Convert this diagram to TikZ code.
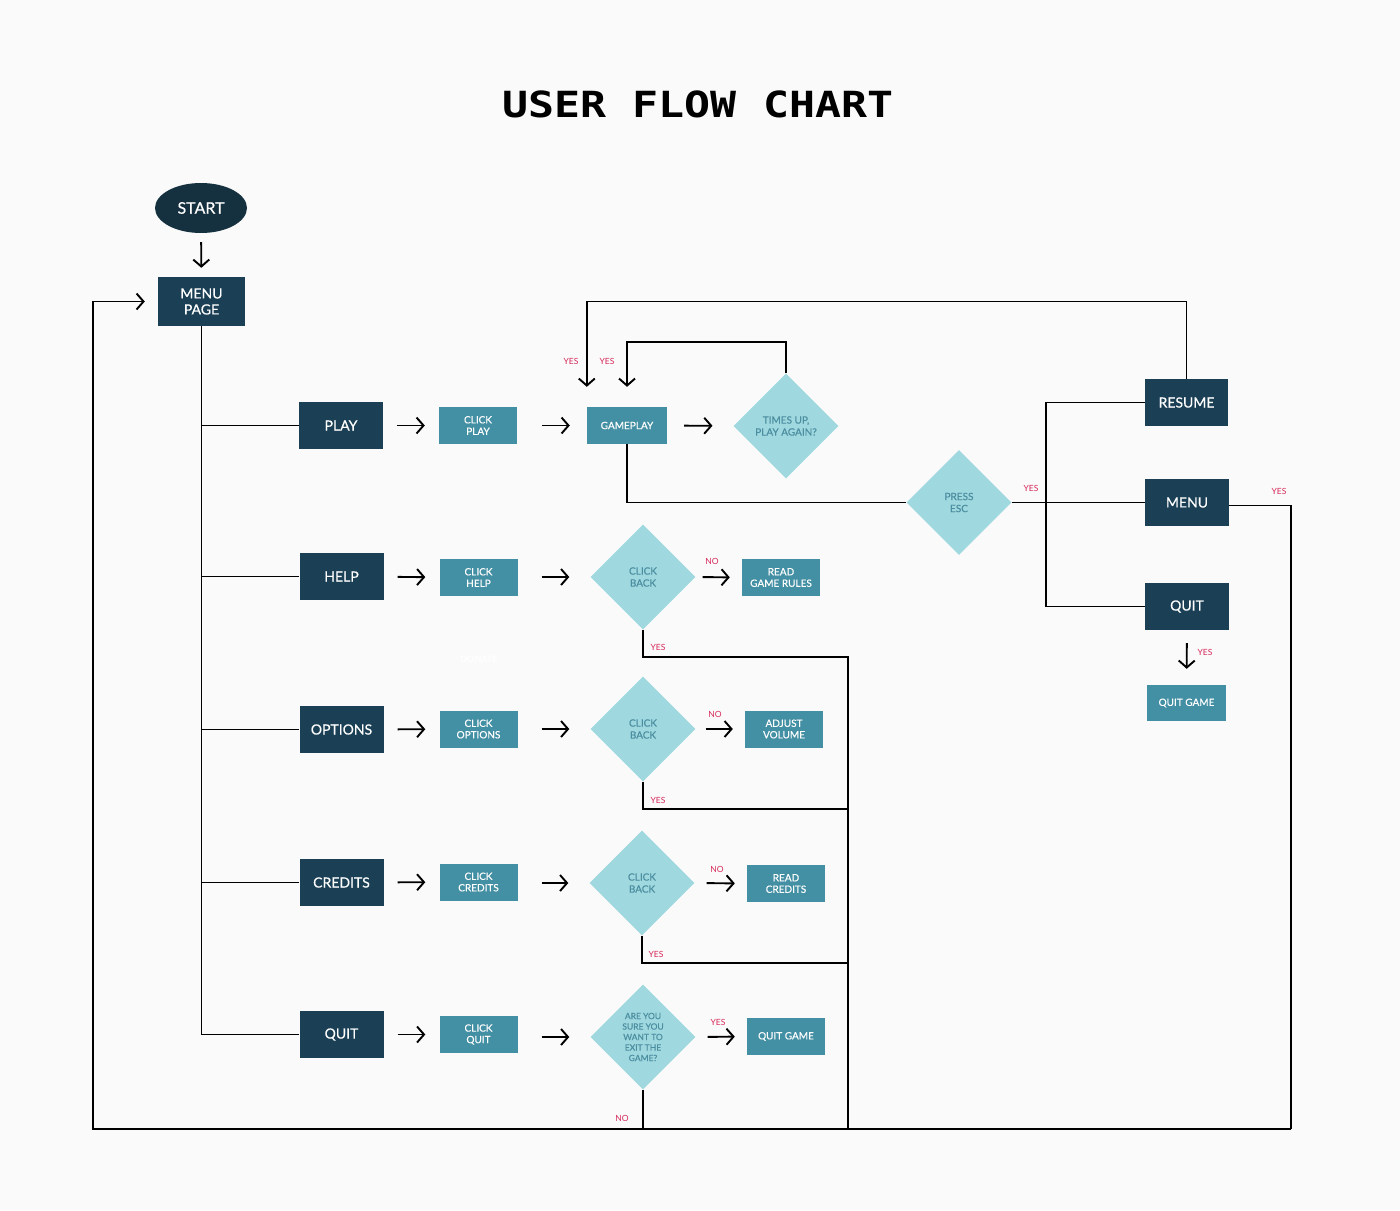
\documentclass[tikz,border=0pt]{standalone}
\usepackage{fontspec}
\setmainfont{Lato}
\newfontfamily\titlefont{DejaVu Sans Mono}
\newfontfamily\medfont{Lato}[FakeBold=0.4]
\usetikzlibrary{shapes.geometric,arrows.meta}
\definecolor{bgc}{HTML}{FAFAFA}
\definecolor{navyc}{HTML}{1B4055}
\definecolor{startc}{HTML}{15303E}
\definecolor{tealc}{HTML}{438FA3}
\definecolor{lightc}{HTML}{A0D8DF}
\definecolor{diatext}{HTML}{4A8EA0}
\definecolor{redl}{HTML}{D6285A}
\tikzset{
 ln/.style={line width=1.9pt, black},
 arr/.style={ln, -{Straight Barb[length=7pt,width=16pt,line width=1.9pt]}},
 navybox/.style={fill=navyc, text=white, minimum width=84pt, minimum height=47pt, inner sep=0pt, font=\medfont\fontsize{14}{16}\selectfont, align=center},
 clickbox/.style={fill=tealc, text=white, minimum width=78pt, minimum height=37pt, inner sep=0pt, font=\medfont\fontsize{10}{11.5}\selectfont, align=center},
 dia/.style={diamond, aspect=1, fill=lightc, text=diatext, minimum width=105pt, minimum height=105pt, inner sep=0pt, font=\medfont\fontsize{10}{12}\selectfont, align=center},
 lbl/.style={text=redl, font=\fontsize{8.5}{10}\selectfont, inner sep=0pt},
}
\begin{document}
\begin{tikzpicture}[x=1pt,y=-1pt]
\useasboundingbox (0,0) rectangle (1400,1210);
\fill[bgc] (0,0) rectangle (1400,1210);

% title
\node[font=\titlefont\bfseries\fontsize{36}{36}\selectfont, xscale=1.2] (title) at (698,104) {USER FLOW CHART};

% start + menu
\node[ellipse, fill=startc, text=white, minimum width=92pt, minimum height=50pt, inner sep=0pt, font=\medfont\fontsize{16}{18}\selectfont] (start) at (201,208) {START};
\node[navybox, minimum width=87pt, minimum height=49pt] (menu) at (201.5,301.5) {MENU\\PAGE};

% rows: dark boxes
\node[navybox] (play) at (341,425.5) {PLAY};
\node[navybox] (help) at (341.5,576.5) {HELP};
\node[navybox] (opt) at (341.5,729.5) {OPTIONS};
\node[navybox] (cred) at (341.5,882.5) {CREDITS};
\node[navybox] (quit) at (341.5,1034.5) {QUIT};

% click boxes
\node[clickbox] (cplay) at (478,425.5) {CLICK\\PLAY};
\node[clickbox] (chelp) at (478.5,577.5) {CLICK\\HELP};
\node[clickbox] (copt) at (478.5,729) {CLICK\\OPTIONS};
\node[clickbox] (ccred) at (478.5,882) {CLICK\\CREDITS};
\node[clickbox] (cquit) at (478.5,1034.5) {CLICK\\QUIT};

% play branch
\node[clickbox, minimum width=80pt] (gp) at (627,425.5) {GAMEPLAY};
\node[dia] (tu) at (786,426) {TIMES UP,\\PLAY AGAIN?};
\node[dia] (esc) at (959,502.5) {PRESS\\ESC};
\node[navybox, minimum width=83pt] (resume) at (1186.5,402.5) {RESUME};
\node[navybox] (menuR) at (1187,502.5) {MENU};
\node[navybox] (quitR) at (1187,606.5) {QUIT};
\node[clickbox, minimum width=79pt, minimum height=36pt] (qg2) at (1186.5,703) {QUIT GAME};

% diamonds of other rows
\node[dia] (hdia) at (643,577) {CLICK\\BACK};
\node[dia] (odia) at (643,729) {CLICK\\BACK};
\node[dia] (cdia) at (642,883) {CLICK\\BACK};
\node[dia, font=\medfont\fontsize{8.5}{10.5}\selectfont] (qdia) at (643,1037) {ARE YOU\\SURE YOU\\WANT TO\\EXIT THE\\GAME?};

% results
\node[clickbox] (rules) at (781,577.5) {READ\\GAME RULES};
\node[clickbox] (vol) at (784,729) {ADJUST\\VOLUME};
\node[clickbox] (rcred) at (786,883.5) {READ\\CREDITS};
\node[clickbox] (qg1) at (786,1036.5) {QUIT GAME};

\node[text=white, font=\fontsize{9}{10}\selectfont\bfseries] (don) at (479,659) {DONATE};

% connectors
\draw[arr, shorten <=9pt, shorten >=9pt] (start) -- (menu);
\draw[ln] (menu.south) |- (quit.west);
\foreach \n in {play,help,opt,cred} {\draw[ln] (menu.south |- \n.west) -- (\n.west);}

\foreach \a/\b in {play/cplay,help/chelp,opt/copt,cred/ccred,quit/cquit} {
  \draw[arr, shorten <=14pt, shorten >=14pt] (\a) -- (\b);
}
\draw[arr, shorten <=25pt, shorten >=17pt] (cplay) -- (gp);
\draw[arr, shorten <=17pt, shorten >=21pt] (gp) -- (tu);
\foreach \a/\b in {chelp/hdia,copt/odia,ccred/cdia,cquit/qdia} {
  \draw[arr, shorten <=24pt, shorten >=21pt] (\a.east |- \b.west) -- (\b.west);
}
\draw[arr, shorten <=7pt, shorten >=12pt] (hdia.east) -- (rules.west);
\draw[arr, shorten <=10pt, shorten >=12pt] (odia.east) -- (vol.west);
\draw[arr, shorten <=12pt, shorten >=12pt] (cdia.east) -- (rcred.west);
\draw[arr, shorten <=12pt, shorten >=12pt] (qdia.east) -- (qg1.west);

\draw[arr, shorten >=20pt] (tu.north) -- ++(0,-31) -| (gp.north);
\draw[arr, shorten >=20pt] (resume.north) |- (gp.north west |- menu.west) -- (gp.north west);
\draw[ln] (gp.south) |- (esc.west);
\draw[ln] (esc.east) -- (menuR.west);
\coordinate (busx) at (1046,0);
\draw[ln] (resume.west) -| (busx |- quitR.west) -- (quitR.west);
\draw[arr, shorten <=13pt, shorten >=16pt] (quitR) -- (qg2);

\coordinate (bl) at (93,1129);
\coordinate (br) at (1291,1129);
\coordinate (vt) at (848,657);
\coordinate (j2) at (848,809);
\coordinate (j3) at (848,963);
\coordinate (vb) at (848,1129);
\draw[ln] ([yshift=-3pt]menuR.east) -| (br);
\draw[arr, shorten >=13pt] (br) -- (bl) |- (menu.west);
\draw[ln] (hdia.south) |- (vt) -- (vb);
\draw[ln] (odia.south) |- (j2);
\draw[ln] (cdia.south) |- (j3);
\draw[ln] (qdia.south) -- (qdia.south |- bl);

% labels
\node[lbl] (y1) at (571,361) {YES};
\node[lbl] (y2) at (607,361) {YES};
\node[lbl] (y3) at (1031,488) {YES};
\node[lbl] (y4) at (1279,491) {YES};
\node[lbl] (y5) at (1205,652) {YES};
\node[lbl] (n1) at (712,561) {NO};
\node[lbl] (y6) at (658,647) {YES};
\node[lbl] (n2) at (715,714) {NO};
\node[lbl] (y7) at (658,800) {YES};
\node[lbl] (n3) at (717,869) {NO};
\node[lbl] (y8) at (656,954) {YES};
\node[lbl] (y9) at (718,1022) {YES};
\node[lbl] (n4) at (622,1118) {NO};
\end{tikzpicture}
\end{document}
